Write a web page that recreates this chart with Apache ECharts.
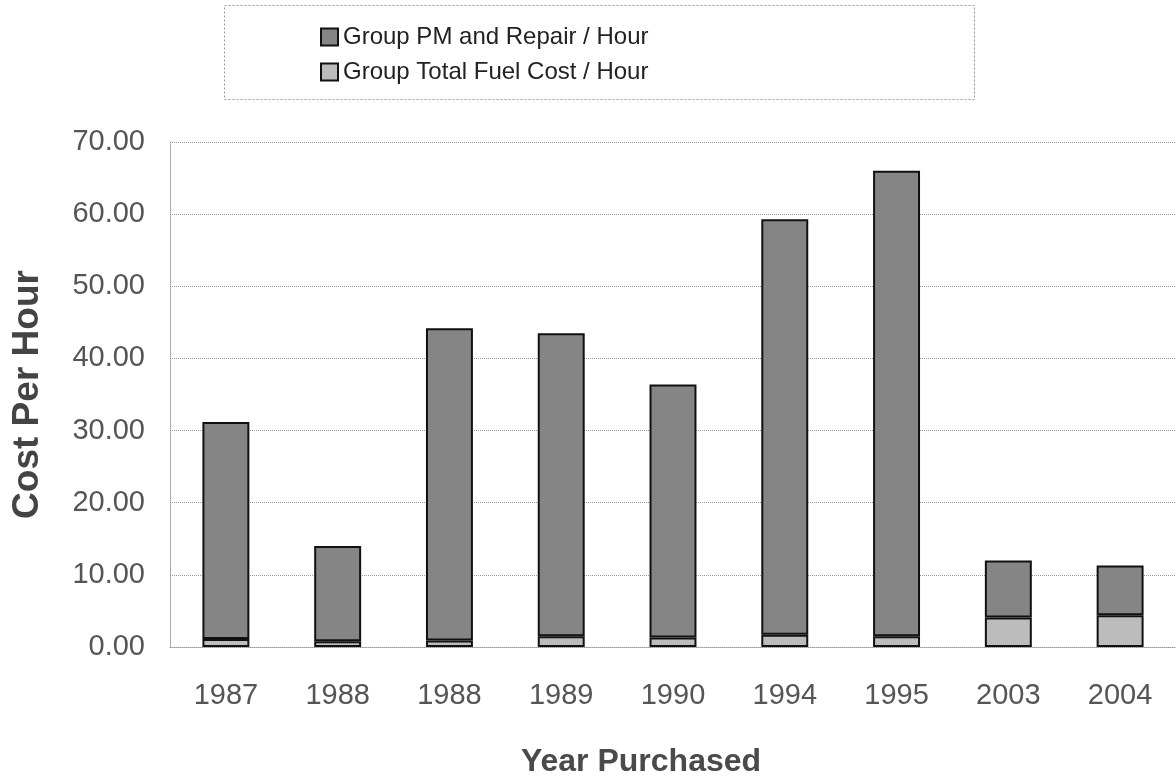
<!DOCTYPE html>
<html>
<head>
<meta charset="utf-8">
<script src="https://cdn.jsdelivr.net/npm/echarts@6/dist/echarts.min.js"></script>
<style>
  html, body { margin: 0; padding: 0; background: #fff; }
  #chart { width: 1176px; height: 783px; }
</style>
</head>
<body>
<div id="chart"></div>
<script>
// data
var years = ['1987', '1988', '1988', '1989', '1990', '1994', '1995', '2003', '2004'];
var pmRepair = [30.1, 13.2, 43.3, 42.0, 35.1, 57.6, 64.5, 7.9, 6.9];
var fuelCost = [1.1, 0.8, 0.9, 1.5, 1.3, 1.7, 1.5, 4.1, 4.4];
var yTicks = [0, 10, 20, 30, 40, 50, 60, 70];

var FONT = '"Liberation Sans", Arial, sans-serif';

var chart = echarts.init(document.getElementById('chart'));

var option = {
  backgroundColor: '#fff',
  animation: false,
  textStyle: { fontFamily: FONT },
  // dotted frame round the legend
  graphic: [{
    type: 'rect',
    left: 222,
    top: 3,
    shape: { width: 750, height: 94 },
    style: { fill: 'none', stroke: '#999', lineWidth: 1, lineDash: [2, 2] },
    silent: true
  }],
  legend: {
    orient: 'vertical',
    left: 320,
    top: 25,
    padding: 0,
    itemGap: 11,
    itemWidth: 17,
    itemHeight: 17,
    icon: 'rect',
    data: ['Group PM and Repair / Hour', 'Group Total Fuel Cost / Hour'],
    textStyle: { fontFamily: FONT, fontSize: 24, color: '#222' }
  },
  grid: {
    left: 170,
    right: -6,
    top: 142,
    bottom: 127
  },
  xAxis: {
    type: 'category',
    data: years,
    name: 'Year Purchased',
    nameLocation: 'middle',
    nameGap: 99,
    nameTextStyle: {
      fontFamily: FONT, fontSize: 32, fontWeight: 'bold', color: '#4a4a4a',
      padding: [0, 64, 0, 0]
    },
    axisTick: { show: false },
    axisLine: { show: true, lineStyle: { color: '#999', type: 'dotted', width: 1 } },
    axisLabel: { fontFamily: FONT, fontSize: 29, color: '#555', margin: 34 }
  },
  yAxis: {
    type: 'value',
    min: yTicks[0],
    max: yTicks[yTicks.length - 1],
    interval: 10,
    name: 'Cost Per Hour',
    nameLocation: 'middle',
    nameRotate: 90,
    nameGap: 124,
    nameTextStyle: { fontFamily: FONT, fontSize: 37, fontWeight: 'bold', color: '#444' },
    axisTick: { show: false },
    axisLine: { show: true, lineStyle: { color: '#999', type: 'dotted', width: 1 } },
    axisLabel: {
      fontFamily: FONT, fontSize: 29, color: '#555', margin: 25,
      formatter: function (v) { return v.toFixed(2); }
    },
    splitLine: { show: true, lineStyle: { color: '#999', type: 'dotted', width: 1 } }
  },
  series: [
    {
      name: 'Group Total Fuel Cost / Hour',
      type: 'bar',
      stack: 'cost',
      barWidth: '42%',
      data: fuelCost,
      itemStyle: { color: '#bcbcbc', borderColor: '#111', borderWidth: 2 }
    },
    {
      name: 'Group PM and Repair / Hour',
      type: 'bar',
      stack: 'cost',
      barWidth: '42%',
      data: pmRepair,
      itemStyle: { color: '#858585', borderColor: '#111', borderWidth: 2 }
    }
  ]
};

chart.setOption(option);
</script>
</body>
</html>
